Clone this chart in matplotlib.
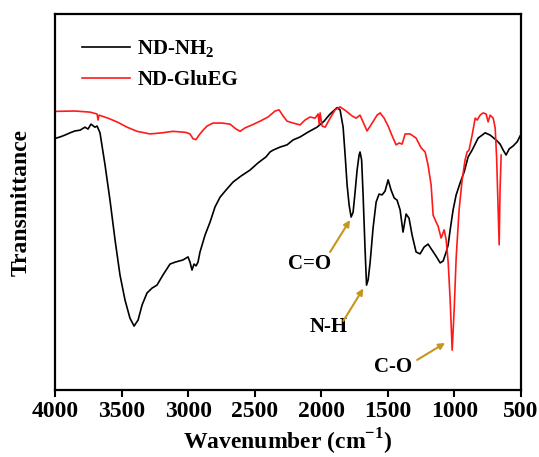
import matplotlib
matplotlib.use("Agg")
import matplotlib.pyplot as plt

plt.rcParams['font.family'] = ['Liberation Serif', 'DejaVu Serif']
plt.rcParams['font.weight'] = 'bold'
plt.rcParams['mathtext.fontset'] = 'custom'
plt.rcParams['mathtext.rm'] = 'Liberation Serif:bold'
plt.rcParams['mathtext.bf'] = 'Liberation Serif:bold'

# ND-NH2 (black)
nh2_wn = [4000, 3962, 3925, 3887, 3850, 3812, 3775, 3752, 3730, 3700, 3684, 3662, 3624, 3587,
          3549, 3512, 3474, 3437, 3406, 3376, 3346, 3309, 3271, 3234, 3189, 3136, 3098, 3038,
          3001, 2986, 2971, 2956, 2941, 2926, 2911, 2873, 2835, 2798, 2760, 2715, 2663, 2603,
          2535, 2475, 2415, 2385, 2362, 2310, 2257, 2212, 2159, 2099, 2032, 1979, 1934, 1881,
          1859, 1836, 1821, 1806, 1791, 1776, 1761, 1746, 1731, 1716, 1709, 1697, 1686, 1671,
          1660, 1648, 1633, 1611, 1588, 1566, 1543, 1521, 1498, 1476, 1453, 1431, 1408, 1386,
          1363, 1341, 1318, 1288, 1258, 1228, 1198, 1168, 1138, 1107, 1085, 1062, 1047, 1032,
          1010, 987, 957, 927, 897, 867, 822, 769, 732, 687, 657, 634, 612, 589, 559, 529, 506]
nh2_t = [66.9, 67.3, 67.8, 68.4, 68.9, 69.1, 69.9, 69.4, 70.7, 69.9, 70.2, 68.4, 59.8, 50.5,
         39.9, 30.6, 23.9, 19.1, 17.0, 18.6, 22.6, 25.8, 27.1, 27.9, 30.6, 33.5, 34.0, 34.6,
         35.4, 34.0, 31.9, 33.5, 33.0, 34.0, 36.7, 41.2, 44.7, 48.7, 51.3, 53.2, 55.3, 56.9,
         58.5, 60.4, 62.0, 63.3, 63.8, 64.6, 65.2, 66.5, 67.3, 68.6, 69.9, 71.5, 73.4, 75.1,
         74.5, 69.9, 62.5, 54.5, 49.2, 46.0, 47.3, 52.7, 58.5, 62.5, 63.3, 61.2, 51.9, 37.2,
         27.9, 29.3, 34.0, 43.1, 50.0, 52.1, 51.9, 52.9, 55.9, 53.2, 51.1, 50.5, 47.9, 42.0,
         46.8, 45.7, 41.2, 36.7, 36.2, 38.0, 38.8, 37.2, 35.6, 33.8, 34.3, 36.7, 38.6, 42.6,
         47.9, 51.9, 55.1, 58.0, 62.0, 63.8, 67.0, 68.4, 67.8, 66.5, 65.4, 63.8, 62.5, 64.1,
         64.9, 66.0, 67.6]

# ND-GluEG (red)
glu_wn = [4000, 3850, 3737, 3684, 3677, 3669, 3602, 3534, 3459, 3384, 3286, 3196, 3113, 3016,
          2986, 2963, 2941, 2918, 2888, 2858, 2813, 2745, 2685, 2640, 2610, 2573, 2520, 2460,
          2400, 2347, 2317, 2287, 2257, 2212, 2159, 2122, 2084, 2047, 2024, 2016, 2009, 1994,
          1971, 1934, 1896, 1859, 1814, 1769, 1739, 1709, 1679, 1656, 1618, 1581, 1558, 1528,
          1498, 1468, 1438, 1415, 1393, 1370, 1333, 1288, 1250, 1220, 1198, 1175, 1160, 1138,
          1123, 1100, 1077, 1062, 1047, 1032, 1017, 1002, 987, 965, 942, 920, 905, 890, 867,
          844, 829, 807, 784, 762, 747, 732, 709, 694, 683, 672, 664, 657, 649]
glu_t = [74.1, 74.2, 73.9, 73.4, 71.8, 73.1, 72.3, 71.3, 69.9, 68.8, 68.1, 68.4, 68.8, 68.5,
         68.1, 66.8, 66.6, 67.8, 69.1, 70.2, 71.0, 71.0, 70.7, 69.4, 68.8, 69.7, 70.5, 71.5,
         72.6, 74.2, 74.5, 72.9, 71.5, 71.0, 70.5, 71.8, 72.6, 72.3, 73.4, 70.7, 73.7, 70.2,
         69.9, 72.3, 74.5, 75.3, 74.2, 72.9, 72.3, 73.1, 70.7, 68.9, 71.0, 73.1, 73.7, 72.3,
         70.2, 67.6, 65.2, 65.7, 65.4, 68.1, 68.1, 67.0, 64.4, 63.3, 59.8, 54.5, 46.5, 44.7,
         43.6, 40.4, 42.6, 39.9, 34.0, 23.9, 10.6, 21.3, 35.1, 47.9, 55.9, 61.2, 63.3, 63.8, 67.8,
         72.3, 71.8, 73.1, 73.7, 73.4, 71.3, 73.1, 72.3, 69.7, 61.7, 48.4, 38.6, 53.7, 62.5]

x_ticks = [4000, 3500, 3000, 2500, 2000, 1500, 1000, 500]

# band annotations: label, text position, arrow tail, arrow head
ann_labels = ['C=O', 'N-H', 'C-O']
ann_text_xy = [(2090, 33.5), (1945, 16.8), (1460, 6.2)]
ann_tail_xy = [(1934, 36.7), (1834, 18.4), (1280, 8.0)]
ann_head_xy = [(1784, 45.2), (1684, 27.0), (1070, 12.5)]

fig = plt.figure(figsize=(5.39, 4.57), dpi=100)
ax = fig.add_axes([55/539, 1 - 390/457, 466/539, 376/457])

ax.plot(nh2_wn, nh2_t, color='black', lw=1.2, label='ND-NH$_2$')
ax.plot(glu_wn, glu_t, color='#ff1a1a', lw=1.2, label='ND-GluEG')

ax.set_xlim(4000, 500)
ax.set_ylim(0, 100)
ax.set_xticks(x_ticks)
ax.set_yticks([])
ax.tick_params(axis='x', direction='out', length=5, width=1.5, labelsize=17, pad=3)
for lab in ax.get_xticklabels():
    lab.set_fontweight('bold')
for s in ax.spines.values():
    s.set_linewidth(1.6)

ax.set_xlabel('Wavenumber (cm$^{-1}$)', fontsize=17, fontweight='bold', labelpad=3)
ax.set_ylabel('Transmittance', fontsize=17, fontweight='bold', labelpad=17)

leg = ax.legend(loc='upper left', bbox_to_anchor=(0.018, 0.985), frameon=False,
                prop={'size': 15, 'weight': 'bold'}, handlelength=2.3, handletextpad=0.35,
                labelspacing=0.5)

acol = '#c8951e'
for lab, txy, tail, head in zip(ann_labels, ann_text_xy, ann_tail_xy, ann_head_xy):
    ax.text(txy[0], txy[1], lab, fontsize=15, fontweight='bold', ha='center', va='center')
    ax.annotate('', xy=head, xytext=tail,
                arrowprops=dict(arrowstyle='-|>', color=acol, lw=1.5, mutation_scale=9,
                                shrinkA=0, shrinkB=0))

fig.savefig('out.png', dpi=100)
